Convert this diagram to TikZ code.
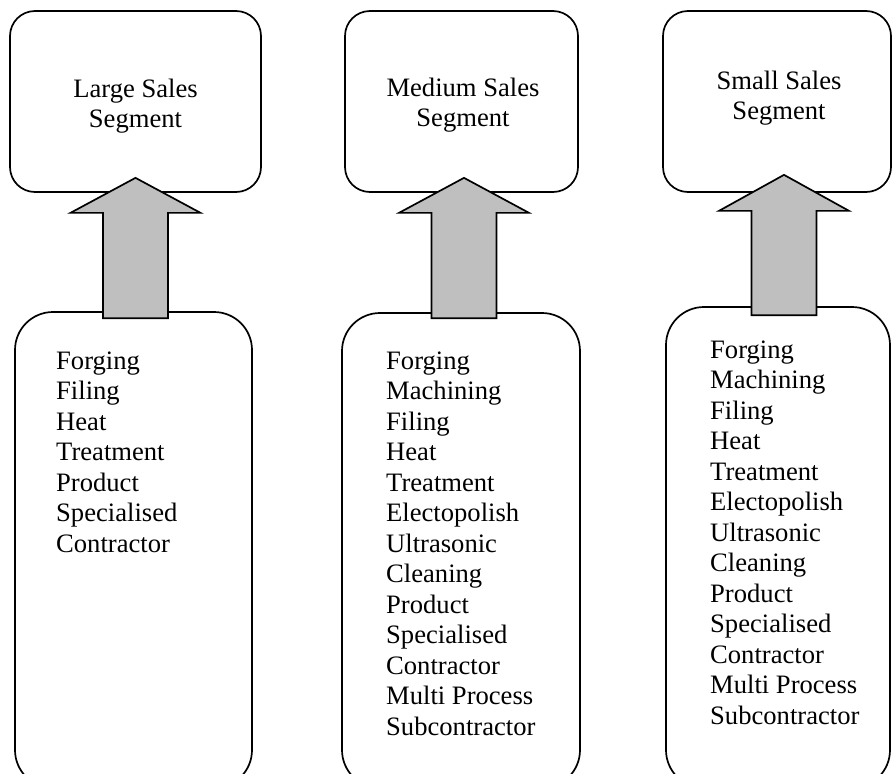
\documentclass[tikz,border=0pt]{standalone}
\usepackage{fontspec}
\setmainfont{Liberation Serif}
\usetikzlibrary{calc}
\begin{document}
\begin{tikzpicture}[x=1pt,y=-1pt,
  every node/.style={font=\fontsize{26.6}{30.5}\selectfont},
  segbox/.style={draw,line width=1.7pt,rounded corners=25pt,inner sep=0pt},
  procbox/.style={draw,line width=1.7pt,rounded corners=38pt,inner sep=0pt},
  boxtext/.style={inner sep=0pt},
  blockarrow/.style={draw,fill=black!25,line width=1.7pt,line join=miter}]
\useasboundingbox (0,0) rectangle (892,774);
\clip (0,0) rectangle (892,774);

% process boxes (they run past the lower edge)
\node[procbox,minimum width=237pt,minimum height=476pt] (b1) at (133.5,550) {};
\node[procbox,minimum width=238pt,minimum height=475pt] (b2) at (461,550.5) {};
\node[procbox,minimum width=224pt,minimum height=481pt] (b3) at (778,547.5) {};

% segment boxes
\node[segbox,minimum width=251pt,minimum height=181pt] (t1) at (135.5,101.5) {};
\node[segbox,minimum width=233pt,minimum height=181pt] (t2) at (461.5,101.5) {};
\node[segbox,minimum width=228pt,minimum height=181pt] (t3) at (777,101.5) {};

% segment titles
\node[boxtext,anchor=base] (t1text) at (135.5,97)
  {\begin{tabular}[t]{@{}c@{}}Large Sales\\Segment\end{tabular}};
\node[boxtext,anchor=base] (t2text) at (463,96)
  {\begin{tabular}[t]{@{}c@{}}Medium Sales\\Segment\end{tabular}};
\node[boxtext,anchor=base] (t3text) at (779,89)
  {\begin{tabular}[t]{@{}c@{}}Small Sales\\Segment\end{tabular}};

% process lists
\node[boxtext,anchor=base west] (b1text) at (56,369)
  {\begin{tabular}[t]{@{}l@{}}Forging\\Filing\\Heat\\Treatment\\Product\\Specialised\\Contractor\end{tabular}};
\node[boxtext,anchor=base west] (b2text) at (386,369)
  {\begin{tabular}[t]{@{}l@{}}Forging\\Machining\\Filing\\Heat\\Treatment\\Electopolish\\Ultrasonic\\Cleaning\\Product\\Specialised\\Contractor\\Multi Process\\Subcontractor\end{tabular}};
\node[boxtext,anchor=base west] (b3text) at (710,358)
  {\begin{tabular}[t]{@{}l@{}}Forging\\Machining\\Filing\\Heat\\Treatment\\Electopolish\\Ultrasonic\\Cleaning\\Product\\Specialised\\Contractor\\Multi Process\\Subcontractor\end{tabular}};

% block arrows from each process box up to its segment box
\coordinate (a1tip) at ($(t1.south)+(0,-15)$);
\coordinate (a1foot) at ($(a1tip |- b1.north)+(-32.5,7)$);
\draw[blockarrow] (a1tip) -- ++(65,35) -- ++(-32.5,0) |- (a1foot) |- ($(a1tip)+(-65,35)$) -- cycle;

\coordinate (a2tip) at ($(t2.south)+(2.5,-15)$);
\coordinate (a2foot) at ($(a2tip |- b2.north)+(-32.5,6)$);
\draw[blockarrow] (a2tip) -- ++(65,35) -- ++(-32.5,0) |- (a2foot) |- ($(a2tip)+(-65,35)$) -- cycle;

\coordinate (a3tip) at ($(t3.south)+(7,-18)$);
\coordinate (a3foot) at ($(a3tip |- b3.north)+(-32.5,9)$);
\draw[blockarrow] (a3tip) -- ++(65,36) -- ++(-32.5,0) |- (a3foot) |- ($(a3tip)+(-65,36)$) -- cycle;
\end{tikzpicture}
\end{document}
